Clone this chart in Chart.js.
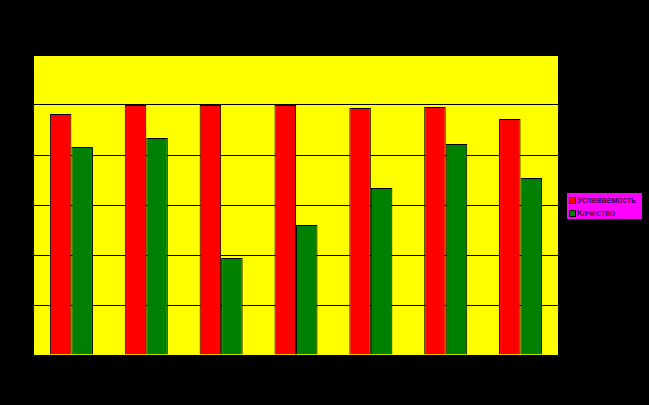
<!DOCTYPE html>
<html>
<head>
<meta charset="utf-8">
<script src="https://cdn.jsdelivr.net/npm/chart.js@4/dist/chart.umd.min.js"></script>
<style>
  html, body { margin: 0; padding: 0; background: #000; }
  #wrap { position: relative; width: 649px; height: 405px; }
  #legend {
    position: absolute; left: 566px; top: 192px; width: 77px; height: 28px;
    background: #FF00FF; border: 1px solid #000; box-sizing: border-box;
    font-family: "Liberation Sans", Arial, sans-serif; font-size: 9px; color: #000;
  }
  .item { position: absolute; left: 2px; height: 10px; line-height: 10px; white-space: nowrap; }
  .sw { display: inline-block; width: 5px; height: 5px; border: 1px solid #000; vertical-align: -1px; margin-right: 1px; }
</style>
</head>
<body>
<div id="wrap">
  <canvas id="c" width="649" height="405"></canvas>
  <div id="legend"></div>
</div>
<script>
const categories = ["1", "2", "3", "4", "5", "6", "7"];
const seriesNames = ["Успеваемость", "Качество"];
const uspevaemost = [96.4, 100, 100, 100, 98.8, 99.2, 94.4];
const kachestvo = [83.2, 86.8, 38.8, 52, 66.8, 84.4, 70.8];
const yTicks = [0, 20, 40, 60, 80, 100, 120];
const colors = ["#FF0000", "#008000"];

const plotBg = {
  id: 'plotBg',
  beforeDraw(chart) {
    const { ctx, chartArea: a } = chart;
    ctx.save();
    ctx.fillStyle = '#000';
    ctx.fillRect(0, 0, chart.width, chart.height);
    ctx.fillStyle = '#FFFF00';
    ctx.fillRect(a.left, a.top, a.right - a.left, a.bottom - a.top);
    ctx.strokeStyle = '#808080';
    ctx.lineWidth = 1;
    ctx.beginPath();
    ctx.moveTo(a.left, a.top + 0.5);
    ctx.lineTo(a.right, a.top + 0.5);
    ctx.stroke();
    ctx.restore();
  }
};

new Chart(document.getElementById('c'), {
  type: 'bar',
  data: {
    labels: categories,
    datasets: [
      { label: seriesNames[0], data: uspevaemost, backgroundColor: colors[0], borderColor: '#000', borderWidth: 1, categoryPercentage: 0.575, barPercentage: 1 },
      { label: seriesNames[1], data: kachestvo, backgroundColor: colors[1], borderColor: '#000', borderWidth: 1, categoryPercentage: 0.575, barPercentage: 1 }
    ]
  },
  options: {
    responsive: false,
    animation: false,
    layout: { padding: { left: 34, top: 55, right: 91, bottom: 50 } },
    plugins: { legend: { display: false }, tooltip: { enabled: false } },
    scales: {
      x: {
        display: true,
        ticks: { display: false },
        grid: { display: false },
        border: { display: false },
        afterFit(axis) { axis.height = 0; }
      },
      y: {
        min: yTicks[0], max: yTicks[yTicks.length - 1],
        afterBuildTicks(axis) { axis.ticks = yTicks.map(v => ({ value: v })); },
        ticks: { display: false, color: '#000' },
        grid: { color: '#000', lineWidth: 1, drawTicks: false },
        border: { display: false },
        afterFit(axis) { axis.width = 0; }
      }
    }
  },
  plugins: [plotBg]
});

const lg = document.getElementById('legend');
seriesNames.forEach((n, i) => {
  const d = document.createElement('div');
  d.className = 'item';
  d.style.top = (2 + i * 13) + 'px';
  d.innerHTML = '<span class="sw" style="background:' + colors[i] + '"></span>' + n;
  lg.appendChild(d);
});
</script>
</body>
</html>
